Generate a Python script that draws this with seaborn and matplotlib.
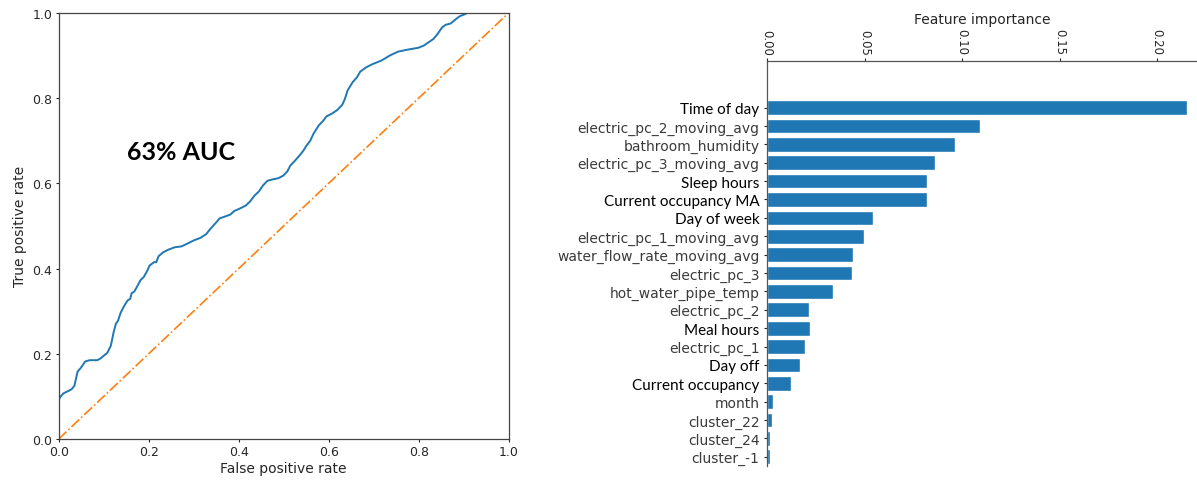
import matplotlib
matplotlib.use("Agg")
import matplotlib.pyplot as plt
import seaborn as sns
import pandas as pd

# ROC curve points (false positive rate, true positive rate)
fpr = [0.0, 0.0, 0.003, 0.0105, 0.022, 0.029, 0.035, 0.042, 0.05, 0.059, 0.069, 0.086,
       0.093, 0.102, 0.108, 0.116, 0.122, 0.127, 0.132, 0.138, 0.146, 0.153, 0.159,
       0.162, 0.168, 0.176, 0.182, 0.189, 0.197, 0.202, 0.212, 0.217, 0.222, 0.232,
       0.243, 0.258, 0.273, 0.289, 0.3, 0.315, 0.328, 0.337, 0.349, 0.358, 0.367,
       0.382, 0.39, 0.403, 0.416, 0.425, 0.435, 0.445, 0.454, 0.464, 0.475, 0.488,
       0.499, 0.508, 0.515, 0.525, 0.535, 0.544, 0.551, 0.559, 0.566, 0.578, 0.588,
       0.595, 0.608, 0.619, 0.63, 0.636, 0.642, 0.653, 0.663, 0.67, 0.683, 0.698,
       0.717, 0.736, 0.754, 0.777, 0.799, 0.811, 0.822, 0.833, 0.843, 0.852, 0.86,
       0.871, 0.881, 0.891, 0.903, 0.908, 1.0]
tpr = [0.0, 0.09, 0.098, 0.107, 0.113, 0.117, 0.125, 0.158, 0.168, 0.182, 0.185, 0.185,
       0.189, 0.197, 0.202, 0.219, 0.25, 0.27, 0.278, 0.297, 0.313, 0.325, 0.329,
       0.342, 0.346, 0.361, 0.373, 0.38, 0.395, 0.407, 0.415, 0.415, 0.429, 0.438,
       0.444, 0.45, 0.452, 0.46, 0.466, 0.472, 0.481, 0.493, 0.507, 0.518, 0.521,
       0.527, 0.535, 0.541, 0.548, 0.557, 0.571, 0.581, 0.595, 0.606, 0.609, 0.612,
       0.618, 0.628, 0.642, 0.653, 0.665, 0.677, 0.689, 0.7, 0.716, 0.736, 0.747,
       0.757, 0.764, 0.772, 0.784, 0.798, 0.818, 0.837, 0.849, 0.862, 0.872, 0.88,
       0.888, 0.9, 0.909, 0.914, 0.918, 0.923, 0.931, 0.939, 0.952, 0.966, 0.972,
       0.975, 0.984, 0.992, 0.997, 1.0, 1.0]
chance = [0.0, 1.0]
auc_label = "63% AUC"

# Random-forest feature importances
features = ["Time of day", "electric_pc_2_moving_avg", "bathroom_humidity",
            "electric_pc_3_moving_avg", "Sleep hours", "Current occupancy MA",
            "Day of week", "electric_pc_1_moving_avg", "water_flow_rate_moving_avg",
            "electric_pc_3", "hot_water_pipe_temp", "electric_pc_2", "Meal hours",
            "electric_pc_1", "Day off", "Current occupancy", "month", "cluster_22",
            "cluster_24", "cluster_-1"]
importance = [0.2155, 0.1092, 0.0963, 0.0863, 0.0821, 0.0821, 0.0545, 0.0499,
              0.0443, 0.0434, 0.034, 0.0217, 0.0218, 0.0197, 0.0171, 0.0123,
              0.0032, 0.0026, 0.0015, 0.0013]
# hand-crafted features, labelled in a different typeface
crafted = ["Time of day", "Sleep hours", "Current occupancy MA", "Day of week",
           "Meal hours", "Day off", "Current occupancy"]
imp_ticks = [0.0, 0.05, 0.10, 0.15, 0.20]

sns.set_style("ticks")
plt.rcParams["font.family"] = ["DejaVu Sans"]

fig = plt.figure(figsize=(11.97, 4.81), dpi=100)

# ---- ROC curve ----
ax1 = fig.add_axes([0.049, 0.0852, 0.376, 0.886])
roc = pd.DataFrame({"fpr": fpr, "tpr": tpr})
sns.lineplot(data=roc, x="fpr", y="tpr", sort=False, estimator=None,
             color="#1f77b4", linewidth=1.4, ax=ax1)
sns.lineplot(x=chance, y=chance, sort=False, estimator=None, color="#ff7f0e",
             linestyle="-.", linewidth=1.2, ax=ax1)
ax1.set_xlim(0, 1)
ax1.set_ylim(0, 1)
ax1.set_xticks([0, 0.2, 0.4, 0.6, 0.8, 1.0])
ax1.set_yticks([0, 0.2, 0.4, 0.6, 0.8, 1.0])
ax1.set_xlabel("False positive rate", fontsize=10, labelpad=2)
ax1.set_ylabel("True positive rate", fontsize=10, labelpad=4)
ax1.tick_params(labelsize=9, length=2.5, width=0.8, pad=2)
for s in ax1.spines.values():
    s.set_linewidth(0.9)
    s.set_color("#444444")
ax1.text(0.152, 0.674, auc_label, fontsize=18, fontweight="bold",
         family="Lato", color="black", va="center", ha="left")

# ---- Feature importance ----
ax2 = fig.add_axes([0.6408, 0.0291, 0.3592, 0.8426])
fi = pd.DataFrame({"feature": features, "importance": importance})
sns.barplot(data=fi, x="importance", y="feature", orient="h", color="#1f77b4",
            saturation=1, width=0.8, ax=ax2)
ax2.set_xlim(0, 0.2205)
ax2.set_ylim(19.5, -2.55)
ax2.xaxis.set_ticks_position("top")
ax2.xaxis.set_label_position("top")
ax2.set_xticks(imp_ticks)
ax2.set_xticklabels([f"{t:.2f}" for t in imp_ticks], rotation=-90, fontsize=8.5)
ax2.set_xlabel("Feature importance", fontsize=10, labelpad=4)
ax2.set_ylabel("")
ax2.tick_params(axis="x", length=2.5, width=0.8, pad=2)
ax2.tick_params(axis="y", length=2.5, width=0.8, pad=3, labelsize=10)
ax2.spines["right"].set_visible(False)
ax2.spines["bottom"].set_visible(False)
for side in ("top", "left"):
    ax2.spines[side].set_linewidth(0.9)
    ax2.spines[side].set_color("#555555")
for lab in ax2.get_yticklabels():
    if lab.get_text() in crafted:
        lab.set_family("Lato")
        lab.set_fontsize(11)
        lab.set_color("black")
    else:
        lab.set_color("#3a3a3a")

fig.savefig("out.png", dpi=100)
